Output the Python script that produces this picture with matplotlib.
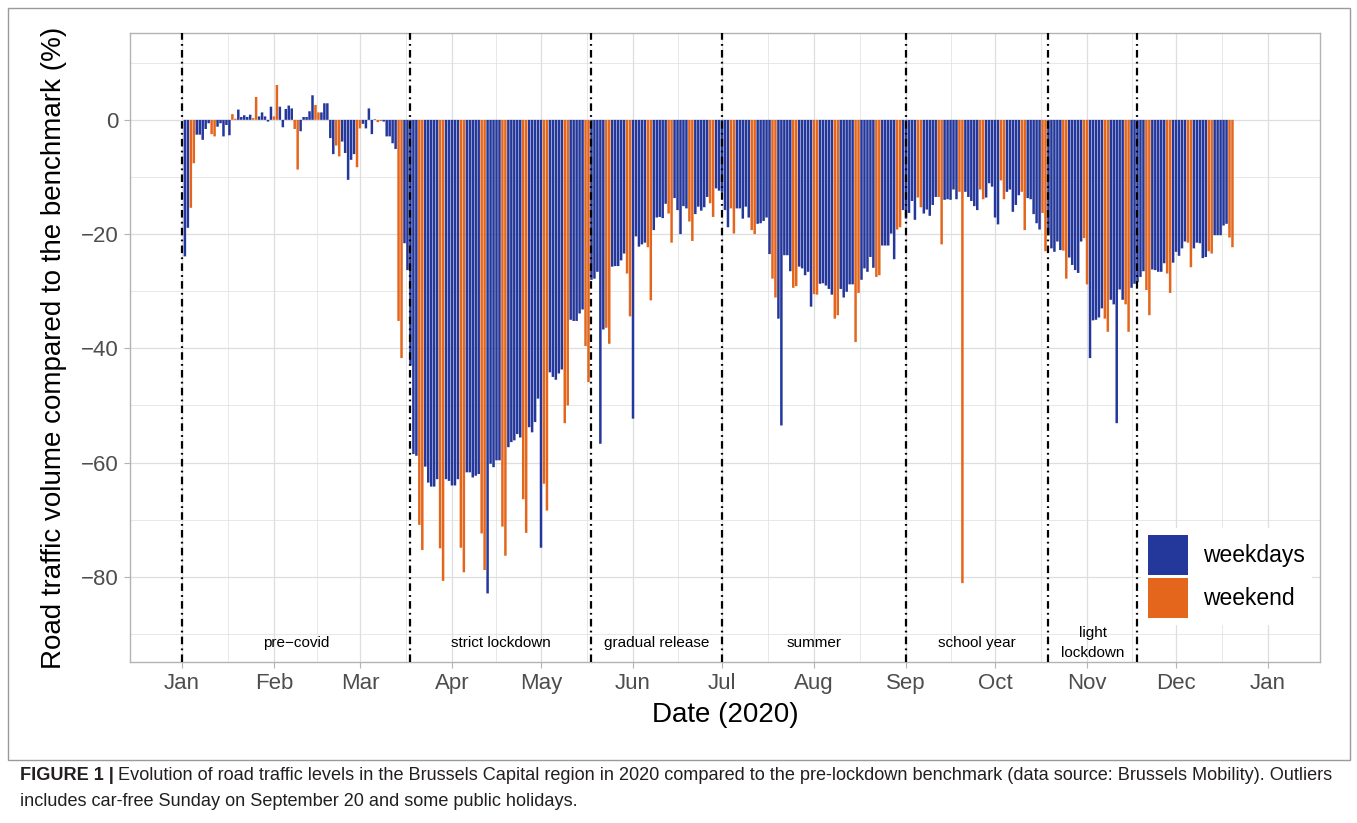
import numpy as np
import pandas as pd
import matplotlib
matplotlib.use("Agg")
import matplotlib.pyplot as plt
import matplotlib.dates as mdates
from matplotlib.patches import Patch, Rectangle

plt.rcParams['font.family'] = ['Liberation Sans', 'DejaVu Sans']

# Daily road traffic relative to the pre-lockdown benchmark (%), 2 Jan - 20 Dec 2020
jan = [-23.9, -18.9, -15.4, -7.6, -2.6, -2.6, -3.5, -1.6, -0.6, -2.5, -2.9, -1.2, -0.6, -2.9, -0.9,
       -2.7, 1.0, 0.2, 1.8, 0.5, 0.8, 0.5, 0.9, 0.3, 4.0, 0.6, 1.3, 0.6, -0.3, 2.3]
feb = [0.6, 6.1, 2.3, -1.3, 1.9, 2.5, 2.0, -1.6, -8.7, -2.0, 0.5, 0.5, 1.5, 4.3, 2.6,
       1.3, 1.3, 2.9, 2.9, -3.2, -6.0, -4.5, -6.4, -3.8, -5.8, -10.5, -7.0, -6.0, -8.3]
mar = [-1.5, -0.7, -1.5, 2.0, -2.5, 0.1, -0.4, -0.2, -0.3, -2.9, -2.9, -4.1, -5.1, -35.2, -41.7,
       -21.6, -26.3, -43.0, -58.5, -58.8, -70.9, -75.3, -60.7, -63.5, -64.2, -64.2, -62.9, -75.0,
       -80.7, -62.9, -63.2]
apr = [-64.0, -64.0, -62.9, -74.9, -79.2, -61.7, -61.7, -62.6, -62.3, -62.0, -72.4, -78.8, -82.9,
       -60.2, -60.8, -59.6, -59.6, -71.2, -76.3, -57.3, -56.4, -56.1, -55.0, -55.6, -66.4, -72.3,
       -53.8, -54.7, -52.9, -48.8]
may = [-74.9, -63.7, -68.4, -44.2, -45.0, -45.5, -44.4, -43.7, -53.1, -50.0, -35.0, -35.2, -35.2,
       -33.9, -33.2, -39.6, -45.9, -28.0, -27.8, -26.6, -56.7, -36.7, -36.4, -39.2, -25.7, -25.6,
       -25.6, -24.6, -23.4, -26.9, -34.4]
jun = [-52.3, -20.4, -22.2, -21.8, -21.5, -22.3, -31.6, -19.3, -17.1, -17.0, -17.2, -14.7, -16.4,
       -21.5, -13.7, -15.8, -20.0, -15.1, -15.5, -17.8, -21.2, -16.5, -15.2, -15.9, -15.3, -13.5,
       -14.6, -17.0, -12.0, -12.4]
jul = [-12.6, -15.8, -18.8, -15.5, -19.9, -15.5, -15.5, -17.3, -15.2, -17.1, -19.3, -20.0, -18.2,
       -18.1, -17.7, -17.1, -23.5, -27.8, -31.1, -34.8, -53.5, -23.7, -23.7, -26.5, -29.4, -29.1,
       -25.7, -26.0, -27.2, -26.6, -32.7]
aug = [-30.5, -30.6, -28.7, -28.6, -29.0, -29.6, -30.6, -34.8, -34.2, -29.6, -31.1, -30.1, -28.8,
       -28.8, -38.9, -30.3, -28.0, -26.0, -26.6, -24.0, -25.9, -27.5, -27.2, -22.0, -22.0, -22.0,
       -19.9, -24.4, -19.2, -18.8, -15.8]
sep = [-17.3, -16.3, -14.2, -17.5, -13.6, -15.3, -16.4, -15.7, -16.8, -14.9, -13.5, -13.5, -21.8,
       -14.0, -13.9, -14.0, -12.2, -13.9, -12.6, -81.1, -12.6, -13.5, -14.2, -15.1, -15.8, -12.2,
       -13.9, -13.6, -11.1, -11.7]
oct_ = [-17.1, -18.3, -10.6, -13.9, -12.6, -12.2, -16.1, -14.9, -13.2, -12.6, -19.3, -13.7, -13.9,
        -16.5, -18.1, -19.2, -16.3, -23.0, -20.2, -22.5, -23.1, -21.3, -22.8, -22.9, -27.8, -24.1,
        -25.4, -26.3, -26.8, -21.3, -20.7]
nov = [-28.8, -41.7, -35.1, -35.0, -34.6, -33.0, -34.8, -37.1, -31.5, -32.3, -53.1, -29.7, -31.5,
       -32.3, -37.1, -29.4, -28.7, -28.4, -27.5, -26.5, -29.8, -34.2, -26.2, -26.3, -26.6, -26.6,
       -25.1, -26.9, -30.3, -25.0]
dec = [-23.1, -23.8, -22.5, -21.3, -21.5, -25.8, -22.5, -21.5, -21.6, -24.2, -24.0, -23.0, -23.4,
       -20.2, -20.2, -20.2, -18.5, -18.2, -20.6, -22.3]

values = np.array(jan + feb + mar + apr + may + jun + jul + aug + sep + oct_ + nov + dec)
dates = pd.date_range("2020-01-02", periods=len(values), freq="D")
is_weekend = np.asarray(dates.dayofweek >= 5)

# Policy phases
phase_starts = ["2020-01-01", "2020-03-18", "2020-05-18", "2020-07-01",
                "2020-09-01", "2020-10-19", "2020-11-18"]
phase_labels = ["pre\u2212covid", "strict lockdown", "gradual release", "summer",
                "school year", "light\nlockdown"]

month_ticks = pd.date_range("2020-01-01", "2021-01-01", freq="MS")
month_labels = [d.strftime("%b") for d in month_ticks]
y_ticks = [0, -20, -40, -60, -80]

BLUE = "#24379A"
ORANGE = "#E3661C"
GRID = "#DEDEDE"
BORDER = "#B3B3B3"
TXT = "#4D4D4D"

W, H = 1357, 823
fig = plt.figure(figsize=(W / 100, H / 100), dpi=100)
fx = lambda px: px / W
fy = lambda py: 1 - py / H

ax = fig.add_axes([fx(130), fy(662), (1320 - 130) / W, (662 - 33) / H])

xnum = mdates.date2num(dates)
ax.bar(xnum[~is_weekend], values[~is_weekend], width=0.84, color=BLUE, linewidth=0,
       zorder=2, snap=False)
ax.bar(xnum[is_weekend], values[is_weekend], width=0.84, color=ORANGE, linewidth=0,
       zorder=2, snap=False)

starts = mdates.date2num(pd.to_datetime(phase_starts))
for s in starts:
    ax.axvline(s, color="black", lw=1.6, linestyle=(0, (3.4, 1.9, 0.8, 1.9)), zorder=4)
for i, lab in enumerate(phase_labels):
    mid = (starts[i] + starts[i + 1]) / 2
    ax.text(mid, -91.6, lab, ha="center", va="center", fontsize=11, color="black",
            linespacing=1.5, zorder=5)

x0 = mdates.date2num(pd.Timestamp("2020-01-01"))
ax.set_xlim(x0 - 17.5, x0 + 383.5)
ax.set_ylim(-94.9, 15.2)

tick_num = mdates.date2num(month_ticks)
ax.set_xticks(tick_num)
ax.set_xticklabels(month_labels)
minor_x = (tick_num[:-1] + tick_num[1:]) / 2
ax.set_xticks(minor_x, minor=True)
ax.set_yticks(y_ticks)
ax.set_yticklabels([("\u2212%d" % -v) if v < 0 else "%d" % v for v in y_ticks])
ax.set_yticks([10, -10, -30, -50, -70, -90], minor=True)

ax.grid(which="major", color=GRID, lw=0.9, zorder=0)
ax.grid(which="minor", color=GRID, lw=0.5, zorder=0)
ax.set_axisbelow(True)
for sp in ax.spines.values():
    sp.set_color(BORDER)
    sp.set_linewidth(1.0)
ax.tick_params(which="major", length=4, width=0.8, color=BORDER, labelsize=16,
               labelcolor=TXT, pad=4)
ax.tick_params(which="minor", length=0)

ax.set_xlabel("Date (2020)", fontsize=20, labelpad=6)
ax.set_ylabel("Road traffic volume compared to the benchmark (%)", fontsize=20, labelpad=10)

handles = [Patch(facecolor=BLUE, edgecolor="none"), Patch(facecolor=ORANGE, edgecolor="none")]
leg = ax.legend(handles, ["weekdays", "weekend"], loc="upper left",
                bbox_to_anchor=((1141 - 130) / 1190, (662 - 528) / 629),
                fontsize=16.5, frameon=True, facecolor="white", edgecolor="none",
                framealpha=1, fancybox=False, handlelength=1.75, handleheight=2.32,
                labelspacing=0.12, handletextpad=0.65, borderpad=0.3, borderaxespad=0)
leg.set_zorder(6)

fig.add_artist(Rectangle((fx(8), fy(760)), (1350 - 8) / W, (760 - 8) / H,
                         transform=fig.transFigure, fill=False, edgecolor="#9A9A9A", lw=1))

cap_size = 13.1
t1 = fig.text(fx(20), fy(776), "FIGURE 1 |", fontsize=cap_size, weight="bold",
              va="center", color="#231F20")
fig.canvas.draw()
bb = t1.get_window_extent()
fig.text(bb.x1 / W + 4 / W, fy(776),
         "Evolution of road traffic levels in the Brussels Capital region in 2020 compared to the "
         "pre-lockdown benchmark (data source: Brussels Mobility). Outliers",
         fontsize=cap_size, va="center", color="#231F20")
fig.text(fx(20), fy(801), "includes car-free Sunday on September 20 and some public holidays.",
         fontsize=cap_size, va="center", color="#231F20")

fig.savefig("out.png", dpi=100)
